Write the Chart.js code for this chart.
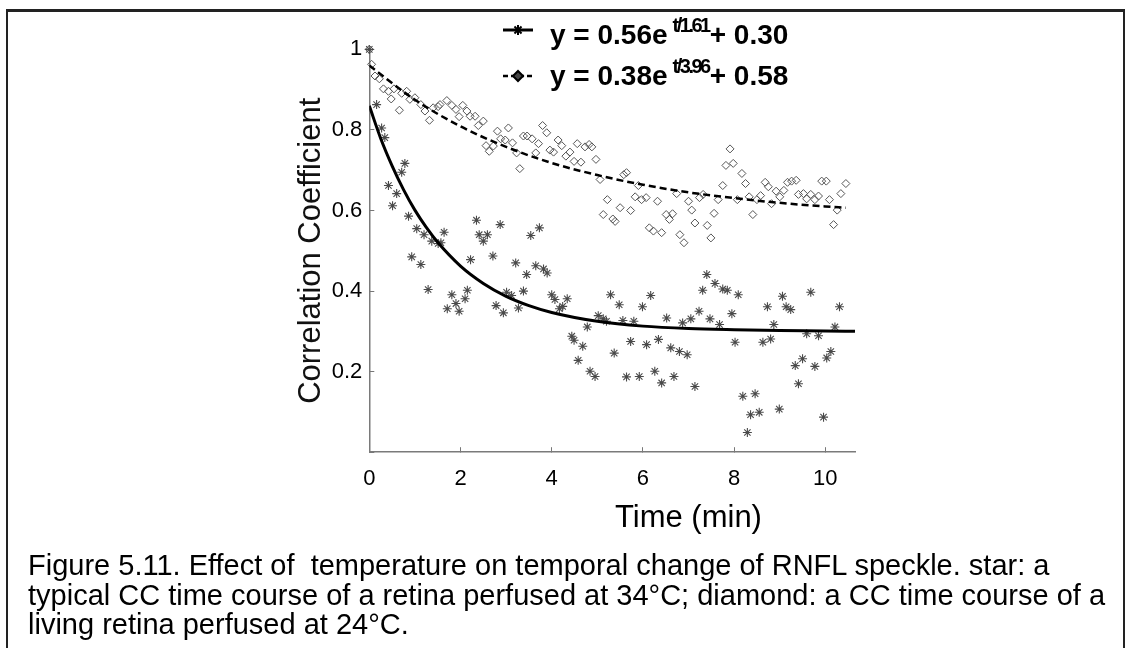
<!DOCTYPE html>
<html>
<head>
<meta charset="utf-8">
<script src="https://cdn.jsdelivr.net/npm/chart.js@4.4.0/dist/chart.umd.min.js"></script>
<style>
  html, body { margin: 0; padding: 0; background: #fff; overflow: hidden; }
  body { width: 1133px; height: 648px; position: relative; font-family: "Liberation Sans", Arial, sans-serif; color: #000; }
  #frame { position: absolute; left: 6px; top: 9px; width: 1115px; height: 700px; border-left: 2px solid #222; border-top: 3px solid #222; border-right: 2px solid #222; }
  #chart { position: absolute; left: 0; top: 0; }
  .leg { position: absolute; left: 550px; font-weight: bold; font-size: 28px; line-height: 32px; white-space: nowrap; }
  .leg .sup { position: relative; top: -12px; font-size: 20px; letter-spacing: -2.5px; margin-left: 5px; margin-right: 1px; }
  #xtitle { position: absolute; left: 615px; top: 499px; font-size: 31px; line-height: 36px; white-space: nowrap; }
  #caption { position: absolute; left: 28px; top: 551px; font-size: 29px; line-height: 29.5px; white-space: pre; }
</style>
</head>
<body>
<div id="frame"></div>
<canvas id="chart" width="1133" height="648"></canvas>
<div class="leg" style="top:19px">y = 0.56e<span class="sup">t/1.61</span>+ 0.30</div>
<div class="leg" style="top:60px">y = 0.38e<span class="sup">t/3.96</span>+ 0.58</div>
<div id="xtitle">Time (min)</div>
<div id="caption">Figure 5.11. Effect of  temperature on temporal change of RNFL speckle. star: a
typical CC time course of a retina perfused at 34°C; diamond: a CC time course of a
living retina perfused at 24°C.</div>
<script>
// star series (34°C)
const STAR_T = [0, 0.16, 0.27, 0.34, 0.42, 0.51, 0.60, 0.71, 0.78, 0.86, 0.93, 1.04, 1.13, 1.20, 1.29, 1.37, 1.51, 1.57, 1.64, 1.71,
  1.81, 1.90, 1.97, 2.10, 2.15, 2.22, 2.35, 2.41, 2.50, 2.59, 2.71, 2.78, 2.87, 2.94, 3.01, 3.12, 3.21, 3.27, 3.38, 3.45,
  3.54, 3.65, 3.73, 3.82, 3.90, 4.00, 4.07, 4.17, 4.24, 4.34, 4.44, 4.49, 4.58, 4.68, 4.78, 4.84, 4.95, 5.02, 5.13, 5.20,
  5.29, 5.37, 5.48, 5.56, 5.64, 5.73, 5.80, 5.92, 5.99, 6.08, 6.17, 6.26, 6.34, 6.41, 6.52, 6.61, 6.68, 6.80, 6.87, 6.97,
  7.05, 7.14, 7.23, 7.31, 7.40, 7.47, 7.58, 7.68, 7.75, 7.85, 7.95, 8.02, 8.09, 8.19, 8.29, 8.36, 8.46, 8.55, 8.63, 8.73,
  8.80, 8.87, 8.99, 9.06, 9.14, 9.24, 9.34, 9.41, 9.50, 9.59, 9.68, 9.77, 9.85, 9.96, 10.03, 10.12, 10.21, 10.31];
const STAR_CC = [1.0, 0.863, 0.805, 0.781, 0.662, 0.612, 0.642, 0.695, 0.717, 0.586, 0.485, 0.555, 0.466, 0.540, 0.404, 0.524, 0.518, 0.520, 0.546, 0.356,
  0.391, 0.369, 0.350, 0.381, 0.402, 0.478, 0.576, 0.540, 0.524, 0.540, 0.487, 0.364, 0.565, 0.346, 0.397, 0.389, 0.470, 0.358, 0.400, 0.441,
  0.538, 0.463, 0.557, 0.455, 0.445, 0.391, 0.379, 0.356, 0.362, 0.381, 0.288, 0.278, 0.228, 0.263, 0.311, 0.201, 0.188, 0.339, 0.331, 0.325,
  0.391, 0.246, 0.366, 0.327, 0.187, 0.275, 0.325, 0.188, 0.361, 0.267, 0.389, 0.201, 0.280, 0.172, 0.333, 0.259, 0.188, 0.250, 0.321, 0.242,
  0.331, 0.163, 0.350, 0.402, 0.441, 0.331, 0.419, 0.317, 0.405, 0.402, 0.344, 0.273, 0.391, 0.139, 0.049, 0.093, 0.145, 0.099, 0.273, 0.361,
  0.281, 0.317, 0.107, 0.387, 0.361, 0.354, 0.215, 0.170, 0.232, 0.294, 0.397, 0.213, 0.289, 0.087, 0.234, 0.250, 0.311, 0.361];

// diamond series (24°C)
const DIAMOND_T = [0, 0.05, 0.125, 0.22, 0.31, 0.42, 0.48, 0.54, 0.66, 0.71, 0.82, 0.89, 1.00, 1.13, 1.22, 1.32, 1.40, 1.51, 1.55, 1.70,
  1.81, 1.90, 1.97, 2.05, 2.14, 2.21, 2.32, 2.39, 2.50, 2.56, 2.63, 2.72, 2.81, 2.88, 2.98, 3.05, 3.14, 3.23, 3.30, 3.38,
  3.46, 3.57, 3.65, 3.71, 3.80, 3.89, 3.96, 4.04, 4.14, 4.22, 4.31, 4.40, 4.49, 4.56, 4.64, 4.73, 4.82, 4.88, 4.97, 5.06,
  5.13, 5.22, 5.34, 5.39, 5.50, 5.58, 5.64, 5.73, 5.83, 5.90, 5.97, 6.07, 6.14, 6.23, 6.32, 6.41, 6.51, 6.58, 6.65, 6.74,
  6.81, 6.90, 7.00, 7.07, 7.14, 7.24, 7.32, 7.41, 7.49, 7.56, 7.65, 7.75, 7.82, 7.91, 7.98, 8.07, 8.17, 8.25, 8.33, 8.41,
  8.50, 8.58, 8.68, 8.75, 8.82, 8.92, 9.00, 9.09, 9.17, 9.26, 9.36, 9.41, 9.52, 9.59, 9.68, 9.77, 9.85, 9.92, 10.02, 10.09,
  10.18, 10.26, 10.34, 10.45];
const DIAMOND_CC = [1.0, 0.963, 0.934, 0.927, 0.902, 0.896, 0.877, 0.902, 0.849, 0.891, 0.896, 0.876, 0.880, 0.863, 0.847, 0.824, 0.855, 0.858, 0.863, 0.873,
  0.861, 0.851, 0.833, 0.861, 0.847, 0.834, 0.834, 0.811, 0.822, 0.761, 0.747, 0.760, 0.797, 0.778, 0.775, 0.805, 0.768, 0.743, 0.704, 0.785,
  0.785, 0.778, 0.743, 0.766, 0.811, 0.793, 0.750, 0.745, 0.775, 0.761, 0.735, 0.745, 0.722, 0.766, 0.720, 0.758, 0.764, 0.758, 0.727, 0.677,
  0.590, 0.627, 0.579, 0.573, 0.607, 0.689, 0.694, 0.600, 0.634, 0.662, 0.627, 0.632, 0.557, 0.549, 0.623, 0.545, 0.590, 0.578, 0.592, 0.642,
  0.540, 0.520, 0.623, 0.601, 0.569, 0.632, 0.640, 0.563, 0.532, 0.593, 0.627, 0.662, 0.712, 0.753, 0.717, 0.627, 0.692, 0.667, 0.634, 0.590,
  0.627, 0.637, 0.670, 0.659, 0.617, 0.648, 0.634, 0.650, 0.670, 0.673, 0.675, 0.640, 0.642, 0.629, 0.640, 0.627, 0.636, 0.673, 0.673, 0.627,
  0.565, 0.601, 0.642, 0.667];

// fitted curves, values
const FIT_STAR_T = [0, 0.25, 0.5, 0.75, 1, 1.25, 1.5, 2, 2.5, 3, 3.5, 4, 5, 6, 7, 8, 9, 10, 10.65];
const FIT_STAR_CC = [0.860, 0.779, 0.711, 0.652, 0.601, 0.558, 0.521, 0.462, 0.419, 0.387, 0.364, 0.347, 0.325, 0.313, 0.307, 0.304, 0.302, 0.301, 0.300];
const FIT_DIAMOND_T = [0, 1, 2, 3, 4, 5, 6, 7, 8, 9, 10, 10.45];
const FIT_DIAMOND_CC = [0.960, 0.875, 0.809, 0.758, 0.718, 0.688, 0.664, 0.645, 0.631, 0.619, 0.610, 0.607];

const X_TICKS = [0, 2, 4, 6, 8, 10];
const Y_TICKS = [0, 0.2, 0.4, 0.6, 0.8, 1];

const FONT = "'Liberation Sans', Arial, sans-serif";
const pts = (xs, ys) => xs.map((x, i) => ({x, y: ys[i]}));

// little line+marker glyphs in front of the two equations
const legendGlyphs = {
    id: 'legendGlyphs',
    afterDraw(chart) {
        const ctx = chart.ctx;
        ctx.save();
        ctx.strokeStyle = '#000';
        ctx.lineWidth = 3;
        ctx.beginPath(); ctx.moveTo(503, 30); ctx.lineTo(533, 30); ctx.stroke();
        ctx.lineWidth = 2.5;
        ctx.setLineDash([5, 3]);
        ctx.beginPath(); ctx.moveTo(503, 76); ctx.lineTo(533, 76); ctx.stroke();
        ctx.setLineDash([]);
        ctx.lineWidth = 2;
        ctx.fillStyle = '#444';
        const draw = Chart.helpers && Chart.helpers.drawPoint;
        if (draw) {
            draw(ctx, {pointStyle: 'star', radius: 5, rotation: 0, borderWidth: 2}, 518, 30);
            draw(ctx, {pointStyle: 'rectRot', radius: 5, rotation: 0, borderWidth: 2}, 518, 76);
        }
        ctx.restore();
    }
};

new Chart(document.getElementById('chart'), {
    type: 'scatter',
    data: {
        datasets: [
            {
                label: 'fit 34°C',
                data: pts(FIT_STAR_T, FIT_STAR_CC),
                showLine: true,
                borderColor: '#000',
                borderWidth: 3,
                pointRadius: 0,
                cubicInterpolationMode: 'monotone',
            },
            {
                label: 'fit 24°C',
                data: pts(FIT_DIAMOND_T, FIT_DIAMOND_CC),
                showLine: true,
                borderColor: '#000',
                borderWidth: 2.5,
                borderDash: [7, 4],
                pointRadius: 0,
                cubicInterpolationMode: 'monotone',
            },
            {
                label: 'star',
                data: pts(STAR_T, STAR_CC),
                pointStyle: 'star',
                pointRadius: 4.5,
                borderColor: '#4a4a4a',
                borderWidth: 1.1,
                clip: false,
            },
            {
                label: 'diamond',
                data: pts(DIAMOND_T, DIAMOND_CC),
                pointStyle: 'rectRot',
                pointRadius: 4,
                backgroundColor: 'rgba(0,0,0,0)',
                borderColor: '#555',
                borderWidth: 1,
                clip: false,
            },
        ]
    },
    options: {
        responsive: false,
        animation: false,
        events: [],
        layout: {padding: {left: 289.3, right: 278, top: 49.4, bottom: 110.8}},
        plugins: {legend: {display: false}, tooltip: {enabled: false}},
        scales: {
            x: {
                type: 'linear',
                min: 0,
                max: 10.65,
                afterFit(scale) { scale.height = 85; },
                afterBuildTicks(scale) { scale.ticks = X_TICKS.map(value => ({value})); },
                ticks: {
                    padding: 19,
                    color: '#000',
                    font: {family: FONT, size: 22},
                    callback: v => String(v),
                },
                grid: {drawOnChartArea: false, tickLength: -5, color: '#777', tickWidth: 1},
                border: {color: '#7a7a7a', width: 1.5},
            },
            y: {
                type: 'linear',
                min: 0,
                max: 1,
                afterFit(scale) { scale.width = 80; },
                afterBuildTicks(scale) { scale.ticks = Y_TICKS.map(value => ({value})); },
                ticks: {
                    padding: 12,
                    color: '#000',
                    font: {family: FONT, size: 22},
                    callback: v => v === 0 ? '' : String(+v.toFixed(1)),
                },
                grid: {drawOnChartArea: false, tickLength: -5, color: '#777', tickWidth: 1},
                border: {color: '#7a7a7a', width: 1.5},
                title: {
                    display: true,
                    text: 'Correlation Coefficient',
                    color: '#111',
                    font: {family: FONT, size: 31},
                    padding: {top: 4, bottom: 0},
                },
            },
        },
    },
    plugins: [legendGlyphs],
});
</script>
</body>
</html>
